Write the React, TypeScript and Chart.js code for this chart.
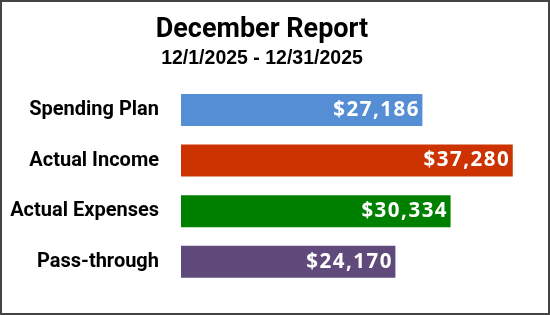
import { useEffect, useRef } from "react";
import { Chart, registerables } from "chart.js";

Chart.register(...registerables);

const titleText = "December Report";
const subtitleText = "12/1/2025 - 12/31/2025";
const categories = ["Spending Plan", "Actual Income", "Actual Expenses", "Pass-through"];
const values = [27186, 37280, 30334, 24170];
const barColors = ["#558ED5", "#CC3300", "#008000", "#604A7B"];
const axisMax = 38200;

const labelFont = "Roboto, 'Liberation Sans', sans-serif";

const valueLabels = {
  id: "valueLabels",
  afterDatasetsDraw(chart: any) {
    const ctx = chart.ctx as CanvasRenderingContext2D;
    const meta = chart.getDatasetMeta(0);
    const ds = chart.data.datasets[0];
    const spacing = 1.5;
    ctx.save();
    ctx.font = "bold 20.5px 'Open Sans'";
    ctx.fillStyle = "#ffffff";
    ctx.textAlign = "right";
    ctx.textBaseline = "middle";
    (ctx as any).letterSpacing = spacing + "px";
    meta.data.forEach((bar: any, i: number) => {
      const v = ds.data[i] as number;
      ctx.fillText("$" + v.toLocaleString("en-US"), bar.x - 5 + spacing, bar.y);
    });
    ctx.restore();
  },
};

export default function App() {
  const ref = useRef<HTMLCanvasElement | null>(null);
  useEffect(() => {
    if (!ref.current) return;
    const chart = new Chart(ref.current, {
      type: "bar",
      data: {
        labels: categories,
        datasets: [
          {
            data: values,
            backgroundColor: barColors,
            borderColor: "rgba(255,255,255,0.45)",
            borderWidth: 1,
            borderSkipped: false,
            categoryPercentage: 1,
            barPercentage: 0.672,
          },
        ],
      },
      plugins: [valueLabels],
      options: {
        indexAxis: "y",
        animation: false,
        responsive: true,
        maintainAspectRatio: false,
        layout: { padding: { left: 0, right: 26, top: 0, bottom: 26 } },
        plugins: {
          legend: { display: false },
          tooltip: { enabled: false },
          title: {
            display: true,
            text: titleText,
            color: "#000",
            font: { family: labelFont, size: 27, weight: "bold", lineHeight: 1.1 },
            padding: { top: 13.2, bottom: 0 },
          },
          subtitle: {
            display: true,
            text: subtitleText,
            color: "#000",
            font: { family: "'Liberation Sans', sans-serif", size: 19.5, weight: "bold", lineHeight: 1.2 },
            padding: { top: 2.2, bottom: 14.2 },
          },
        },
        scales: {
          x: { display: false, min: 0, max: axisMax },
          y: {
            grid: { display: false, drawTicks: false },
            border: { display: false },
            ticks: {
              color: "#000",
              padding: 21,
              font: { family: labelFont, size: 20, weight: "bold" },
            },
            afterFit: (scale: any) => {
              scale.width = 178;
              scale.paddingTop = 0;
              scale.paddingBottom = 0;
            },
          },
        },
      },
    });
    return () => chart.destroy();
  }, []);
  return (
    <div
      style={{
        position: "fixed",
        left: 0,
        top: 0,
        width: 550,
        height: 315,
        boxSizing: "border-box",
        border: "2px solid #444",
        background: "#fff",
      }}
    >
      <div style={{ position: "relative", width: 546, height: 311 }}>
        <canvas ref={ref} />
      </div>
    </div>
  );
}
